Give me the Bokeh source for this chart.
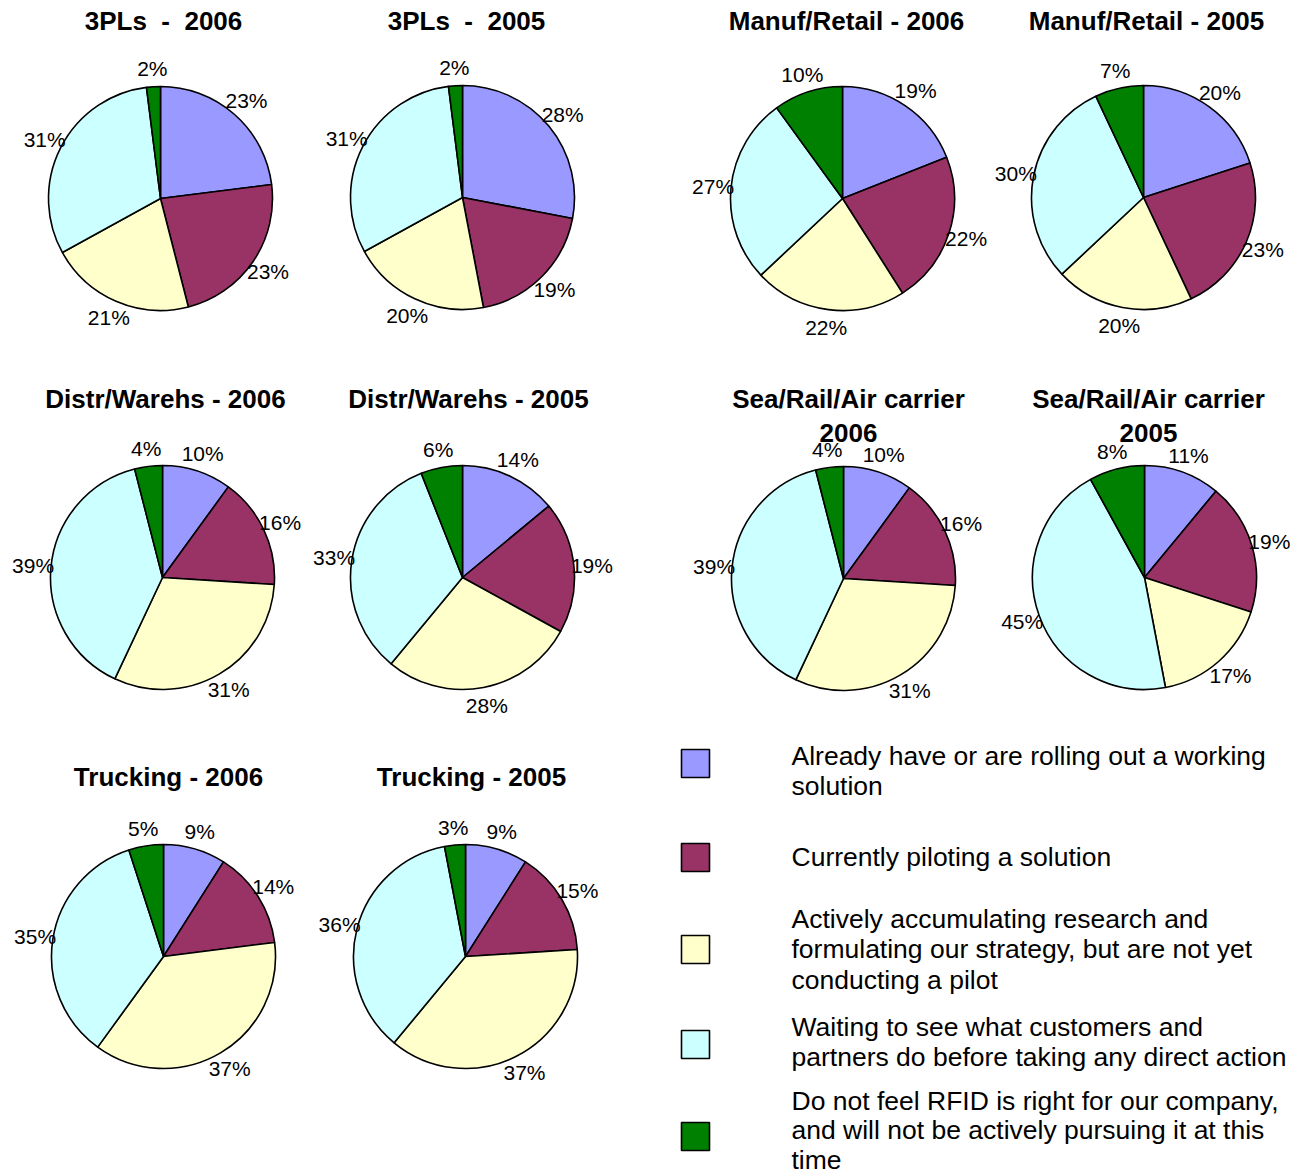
import math
from bokeh.plotting import figure
from bokeh.models import Range1d, ColumnDataSource
from bokeh.core.properties import value
from bokeh.embed import file_html
from bokeh.resources import INLINE

# ---------------- data ----------------
categories = [
    "Already have or are rolling out a working solution",
    "Currently piloting a solution",
    "Actively accumulating research and formulating our strategy, but are not yet conducting a pilot",
    "Waiting to see what customers and partners do before taking any direct action",
    "Do not feel RFID is right for our company, and will not be actively pursuing it at this time",
]
legend_lines = [
    ["Already have or are rolling out a working", "solution"],
    ["Currently piloting a solution"],
    ["Actively accumulating research and", "formulating our strategy, but are not yet", "conducting a pilot"],
    ["Waiting to see what customers and", "partners do before taking any direct action"],
    ["Do not feel RFID is right for our company,", "and will not be actively pursuing it at this", "time"],
]
colors = ["#9999FF", "#993366", "#FFFFCC", "#CCFFFF", "#008000"]

titles = [
    ["3PLs \u00a0- \u00a02006"], ["3PLs \u00a0- \u00a02005"],
    ["Manuf/Retail - 2006"], ["Manuf/Retail - 2005"],
    ["Distr/Warehs - 2006"], ["Distr/Warehs - 2005"],
    ["Sea/Rail/Air carrier", "2006"], ["Sea/Rail/Air carrier", "2005"],
    ["Trucking - 2006"], ["Trucking - 2005"],
]
tpl_2006 = [23, 23, 21, 31, 2]
tpl_2005 = [28, 19, 20, 31, 2]
manuf_2006 = [19, 22, 22, 27, 10]
manuf_2005 = [20, 23, 20, 30, 7]
distr_2006 = [10, 16, 31, 39, 4]
distr_2005 = [14, 19, 28, 33, 6]
sea_2006 = [10, 16, 31, 39, 4]
sea_2005 = [11, 19, 17, 45, 8]
truck_2006 = [9, 14, 37, 35, 5]
truck_2005 = [9, 15, 37, 36, 3]
series = [tpl_2006, tpl_2005, manuf_2006, manuf_2005, distr_2006, distr_2005,
          sea_2006, sea_2005, truck_2006, truck_2005]

# ---------------- layout (picture pixels) ----------------
W, H = 1306, 1175
def Y(py):
    return H - py

centers = [(160, 198), (462, 197), (842, 198), (1143, 197),
           (162, 577), (462, 577), (843, 578), (1144, 577),
           (163, 956), (465, 956)]
title_pos = [(163, 20), (466, 20), (846, 20), (1146, 20),
             (165, 398), (468, 398), (848, 398), (1148, 398),
             (168, 776), (471, 776)]
title_line_gap = 34
R = 112
R_LAB = 130

p = figure(width=W, height=H, x_range=Range1d(0, W), y_range=Range1d(0, H),
           output_backend="svg", toolbar_location=None, min_border=0,
           x_axis_location=None, y_axis_location=None)
p.grid.visible = False
p.outline_line_color = None

wx, wy, ws, we, wc = [], [], [], [], []
lx, ly, lt = [], [], []
for (cx, cy), vals in zip(centers, series):
    tot = float(sum(vals))
    cum = 0.0
    for v, c in zip(vals, colors):
        a0 = cum / tot * 2 * math.pi
        cum += v
        a1 = cum / tot * 2 * math.pi
        wx.append(cx); wy.append(Y(cy))
        ws.append(math.pi / 2 - a1); we.append(math.pi / 2 - a0)
        wc.append(c)
        mid = (a0 + a1) / 2
        lx.append(cx + R_LAB * math.sin(mid))
        ly.append(Y(cy) + R_LAB * math.cos(mid))
        lt.append("%d%%" % v)

wsrc = ColumnDataSource(dict(x=wx, y=wy, s=ws, e=we, c=wc))
p.wedge(x="x", y="y", radius=R, radius_units="screen", start_angle="s", end_angle="e",
        fill_color="c", line_color="black", line_width=1.6, source=wsrc)

lsrc = ColumnDataSource(dict(x=lx, y=ly, t=lt))
p.text(x="x", y="y", text="t", source=lsrc, text_align="center", text_baseline="middle",
       text_font=value("Liberation Sans"), text_font_size="21px", text_color="black")

tx, ty, tt = [], [], []
for (x0, y0), lines in zip(title_pos, titles):
    for i, line in enumerate(lines):
        tx.append(x0); ty.append(Y(y0 + i * title_line_gap)); tt.append(line)
p.text(x=tx, y=ty, text=tt, text_align="center", text_baseline="middle",
       text_font=value("Liberation Sans"), text_font_style="bold",
       text_font_size="26px", text_color="black")

# legend
sq_x = 695
sq_y = [763, 857, 949, 1044, 1136]
txt_x = 791
first_line_y = [755, 856, 918, 1026, 1100]
line_gaps = [30.5, 30.5, 30.5, 30.5, 29.5]
p.rect(x=[sq_x] * 5, y=[Y(v) for v in sq_y], width=28, height=28,
       width_units="screen", height_units="screen",
       fill_color=colors, line_color="black", line_width=1.6)
gx, gy, gt = [], [], []
for y0, gap, lines in zip(first_line_y, line_gaps, legend_lines):
    for i, line in enumerate(lines):
        gx.append(txt_x); gy.append(Y(y0 + i * gap)); gt.append(line)
p.text(x=gx, y=gy, text=gt, text_align="left", text_baseline="middle",
       text_font=value("Liberation Sans"), text_font_size="26.5px", text_color="black")

open("out.html", "w").write(file_html(p, INLINE))
